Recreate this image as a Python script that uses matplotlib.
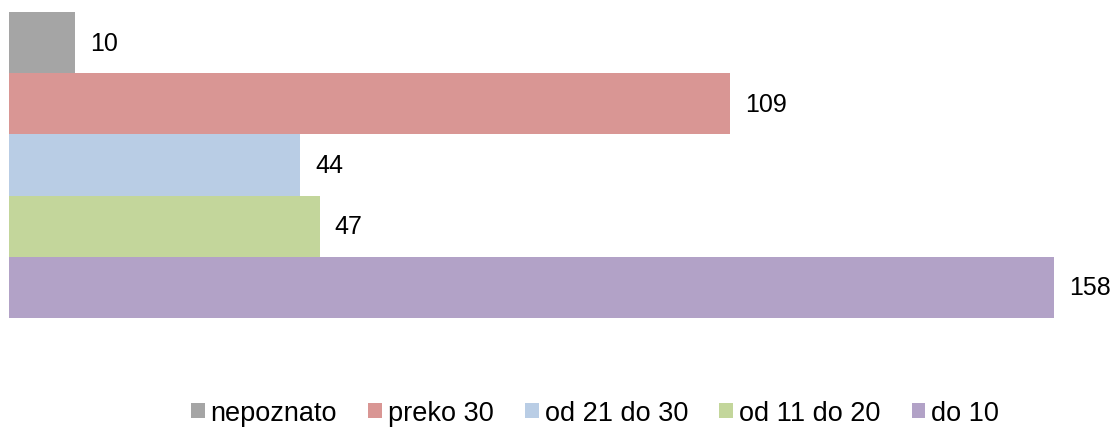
import matplotlib.pyplot as plt

plt.rcParams['font.family'] = ['Liberation Sans', 'DejaVu Sans']

kategorije = ['nepoznato', 'preko 30', 'od 21 do 30', 'od 11 do 20', 'do 10']
vrijednosti = [10, 109, 44, 47, 158]
boje = ['#A5A5A5', '#D99694', '#B9CDE5', '#C3D69B', '#B2A2C7']

fig = plt.figure(figsize=(11.16, 4.39), dpi=100)
ax = fig.add_axes([9 / 1116, 1 - 319 / 439, (1054 - 9) / 1116, (319 - 13) / 439])

n = len(kategorije)
for i in range(n):
    y = n - 1 - i
    ax.barh(y, vrijednosti[i], height=1.0, color=boje[i], label=kategorije[i])
    ax.annotate(str(vrijednosti[i]), xy=(vrijednosti[i], y), xytext=(15, 0),
                textcoords='offset pixels', va='center', ha='left',
                fontsize=18, color='black', annotation_clip=False)

ax.set_xlim(0, max(vrijednosti))
ax.set_ylim(-0.5, n - 0.5)
ax.axis('off')

fig.legend(loc='center', bbox_to_anchor=(595 / 1116, 1 - 414 / 439), ncol=5,
           frameon=False, fontsize=19.5, handlelength=0.5, handleheight=0.5,
           handletextpad=0.22, columnspacing=1.16, borderpad=0)

fig.savefig('out.png', dpi=100)
